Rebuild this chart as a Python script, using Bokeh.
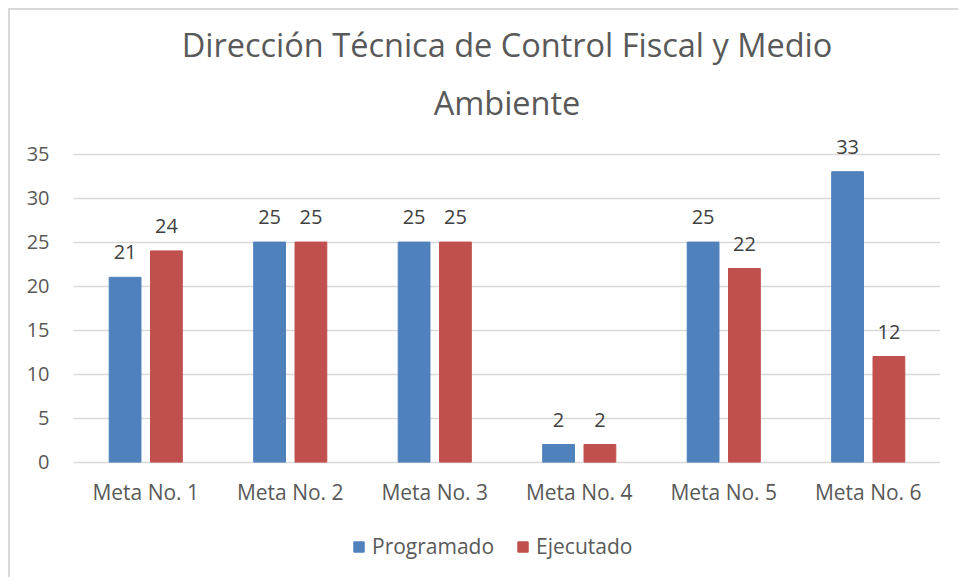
from bokeh.plotting import figure
from bokeh.models import (FactorRange, ColumnDataSource, FixedTicker, Title,
                          Legend, LegendItem, LabelSet, Range1d)
from bokeh.core.properties import value
from bokeh.transform import dodge
from bokeh.embed import file_html
from bokeh.resources import INLINE

categories = ["Meta No. 1", "Meta No. 2", "Meta No. 3", "Meta No. 4", "Meta No. 5", "Meta No. 6"]
programado = [21, 25, 25, 2, 25, 33]
ejecutado = [24, 25, 25, 2, 22, 12]
y_ticks = [0, 5, 10, 15, 20, 25, 30, 35]
title_lines = ["Dirección Técnica de Control Fiscal y Medio", "Ambiente"]
series_names = ["Programado", "Ejecutado"]

FONT = "Open Sans"
BLUE = "#4F81BD"
RED = "#C0504D"
GRAY = "#595959"

source = ColumnDataSource(data=dict(
    cat=categories,
    prog=programado,
    ejec=ejecutado,
    prog_txt=[str(v) for v in programado],
    ejec_txt=[str(v) for v in ejecutado],
))

p = figure(
    x_range=FactorRange(*categories, range_padding=0),
    y_range=Range1d(-13.34, 37),
    width=950, height=569,
    output_backend="svg", toolbar_location=None,
    min_border_left=63, min_border_right=20,
    min_border_bottom=0, min_border_top=126,
)
p.styles = {"margin-left": "8px", "margin-top": "8px",
            "border-left": "2px solid #D9D9D9", "border-top": "2px solid #D9D9D9"}
p.outline_line_color = None
p.background_fill_color = "white"
p.border_fill_color = "white"

# titles (first added is closest to the plot)
p.add_layout(Title(text=title_lines[1], align="center", text_font=FONT,
                   text_font_size="32.5px", text_font_style="normal",
                   text_line_height=1.475, text_color=GRAY, standoff=23), "above")
p.add_layout(Title(text=title_lines[0], align="center", text_font=FONT,
                   text_font_size="32.5px", text_font_style="normal",
                   text_line_height=1.475, text_color=GRAY, standoff=0), "above")

r1 = p.vbar(x=dodge("cat", -0.143, range=p.x_range), top="prog", width=0.22,
            source=source, fill_color=BLUE, line_color=BLUE)
r2 = p.vbar(x=dodge("cat", 0.143, range=p.x_range), top="ejec", width=0.22,
            source=source, fill_color=RED, line_color=RED)

for col, txt, off in (("prog", "prog_txt", -0.143), ("ejec", "ejec_txt", 0.143)):
    labels = LabelSet(x=dodge("cat", off, range=p.x_range), y=col, text=txt,
                      source=source, text_align="center",
                      text_baseline="alphabetic", y_offset=18,
                      text_font=value(FONT), text_font_size=value("20px"),
                      text_color="#404040")
    p.add_layout(labels)

p.yaxis.ticker = FixedTicker(ticks=y_ticks)
p.ygrid.ticker = FixedTicker(ticks=y_ticks)
p.ygrid.grid_line_color = "#D9D9D9"
p.ygrid.grid_line_width = 1.3
p.xgrid.grid_line_color = None
p.xaxis.fixed_location = 0

for ax in (p.xaxis, p.yaxis):
    ax.axis_line_color = None
    ax.major_tick_line_color = None
    ax.minor_tick_line_color = None
    ax.major_label_text_font = FONT
    ax.major_label_text_color = GRAY
p.yaxis.major_label_text_font_size = "20px"
p.xaxis.major_label_text_font_size = "21px"
p.yaxis.major_label_standoff = 18
p.xaxis.major_label_standoff = 10

legend = Legend(items=[LegendItem(label=series_names[0], renderers=[r1]),
                       LegendItem(label=series_names[1], renderers=[r2])],
                orientation="horizontal", location=(279, 19),
                label_text_font=FONT, label_text_font_size="21px",
                label_text_color=GRAY, glyph_width=13, glyph_height=13,
                label_standoff=7, spacing=22, border_line_color=None,
                background_fill_alpha=0, margin=0, padding=0)
p.add_layout(legend, "center")

open("out.html", "w").write(file_html(p, INLINE))
